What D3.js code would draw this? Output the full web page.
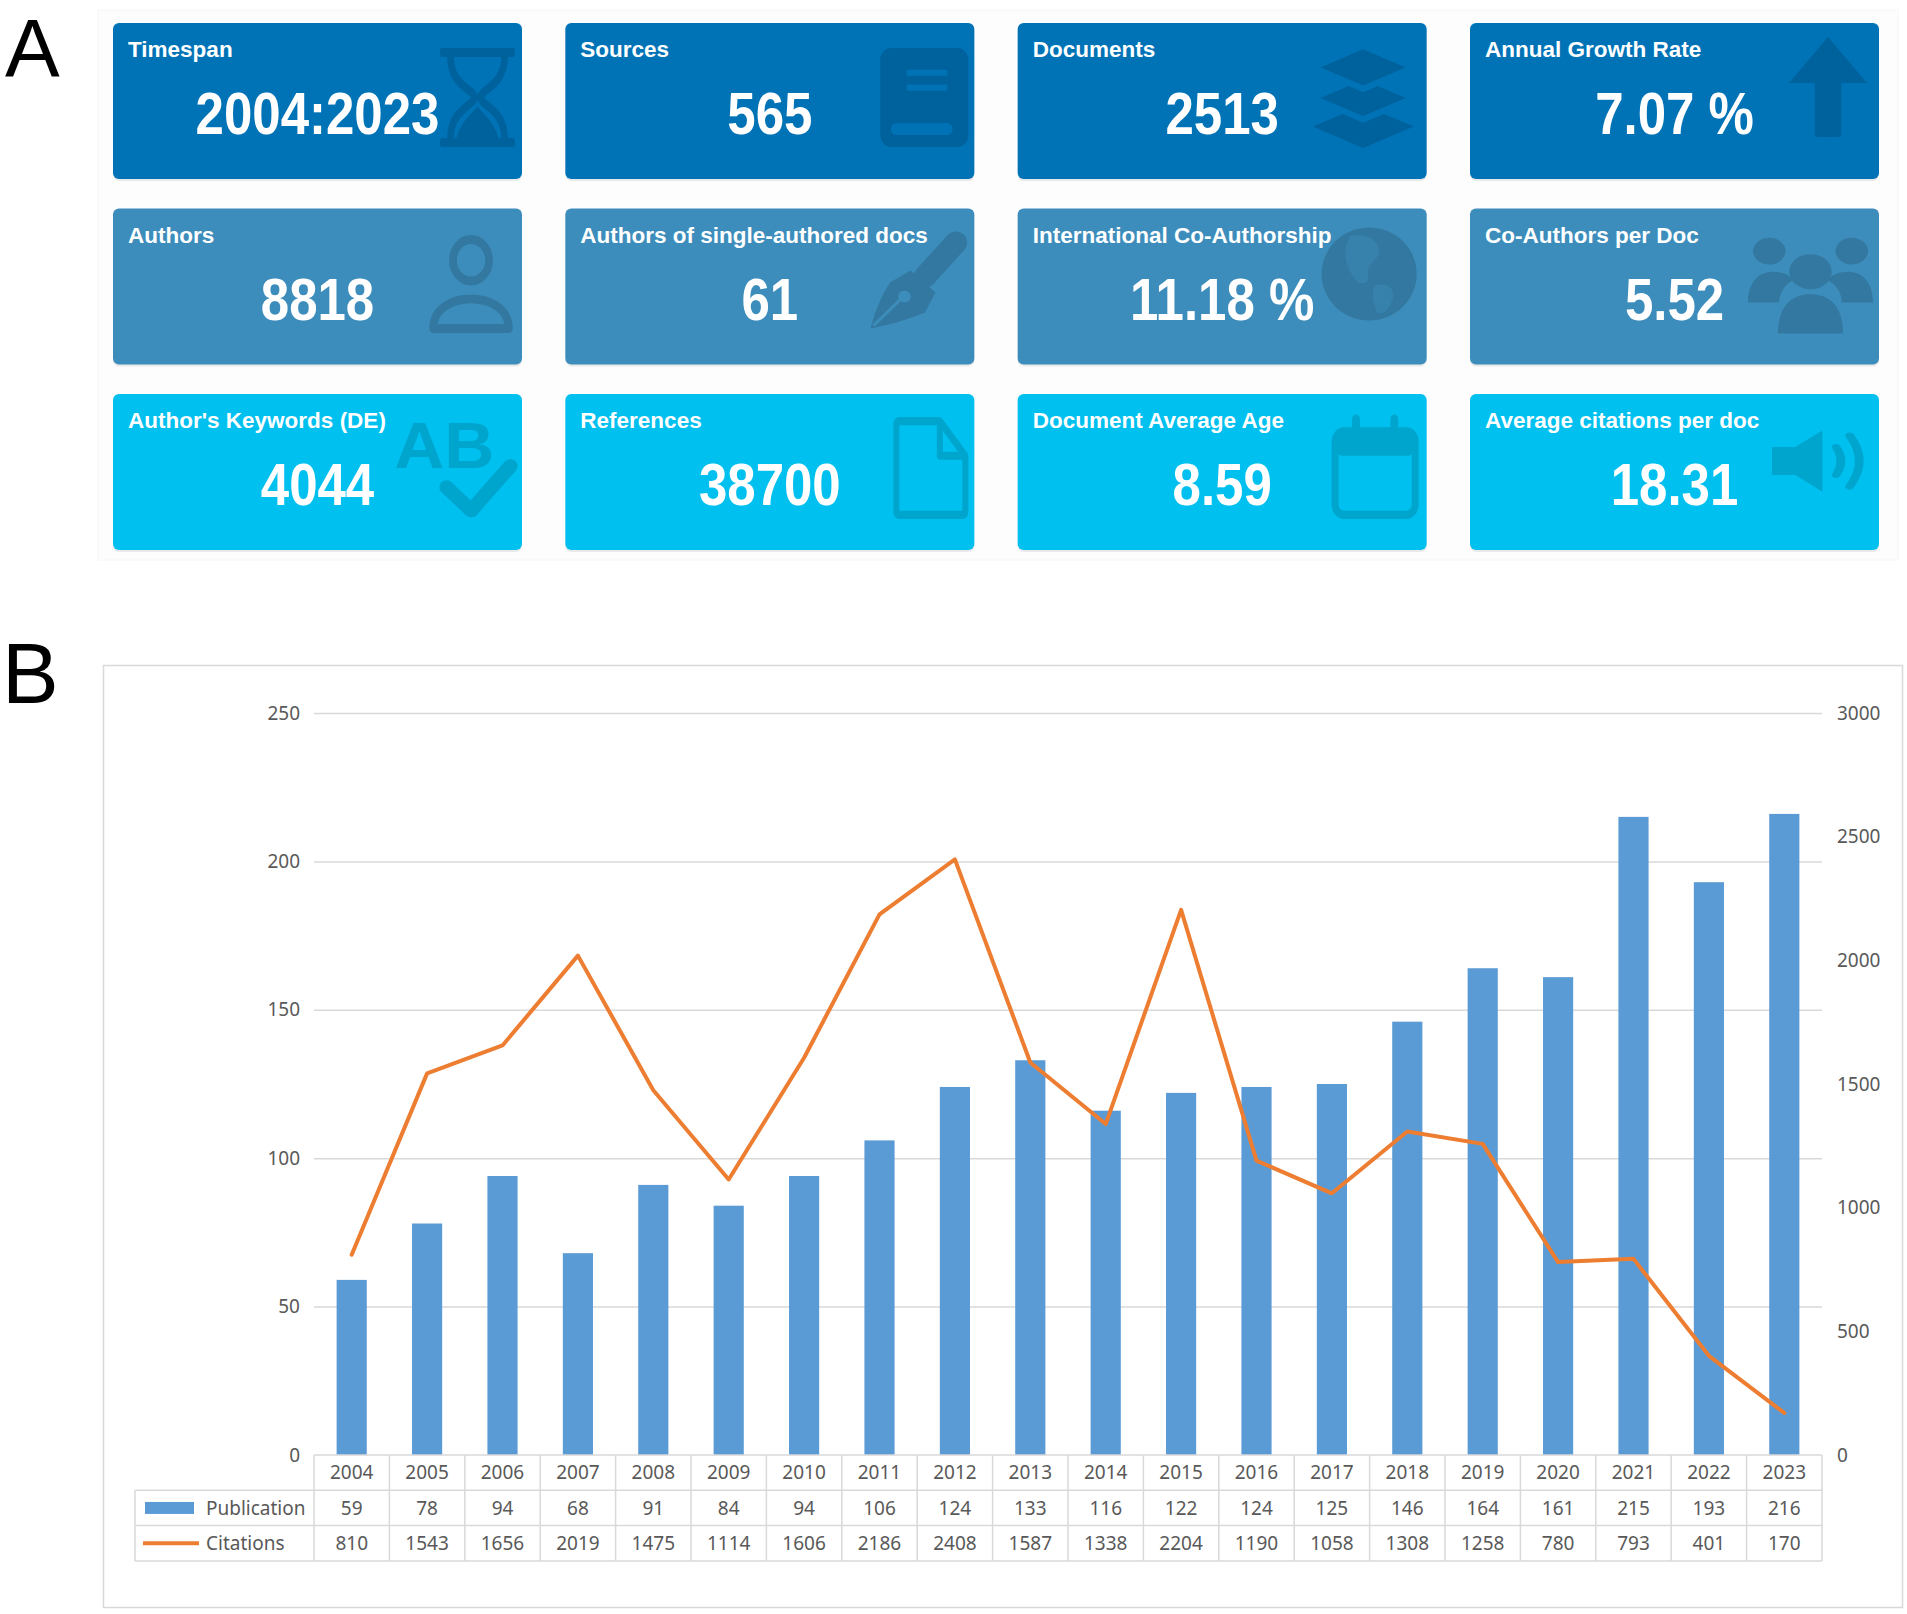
<!DOCTYPE html>
<html>
<head>
<meta charset="utf-8">
<script src="https://cdn.jsdelivr.net/npm/d3@7"></script>
<style>
  body { margin: 0; background: #fff; }
  svg { display: block; }
</style>
</head>
<body>
<div id="svg-container"></div>
<script>
// ---------------- data ----------------
const cardTitles = [
  "Timespan", "Sources", "Documents", "Annual Growth Rate",
  "Authors", "Authors of single-authored docs", "International Co-Authorship", "Co-Authors per Doc",
  "Author's Keywords (DE)", "References", "Document Average Age", "Average citations per doc"
];
const cardValues = [
  "2004:2023", "565", "2513", "7.07 %",
  "8818", "61", "11.18 %", "5.52",
  "4044", "38700", "8.59", "18.31"
];
const cardIcons = [
  "hourglass", "book", "layers", "arrow",
  "user", "pen", "globe", "users",
  "spell", "file", "calendar", "volume"
];

const years = ["2004", "2005", "2006", "2007", "2008", "2009", "2010", "2011", "2012", "2013",
  "2014", "2015", "2016", "2017", "2018", "2019", "2020", "2021", "2022", "2023"];
const publications = [59, 78, 94, 68, 91, 84, 94, 106, 124, 133, 116, 122, 124, 125, 146, 164, 161, 215, 193, 216];
const citations = [810, 1543, 1656, 2019, 1475, 1114, 1606, 2186, 2408, 1587, 1338, 2204, 1190, 1058, 1308, 1258, 780, 793, 401, 170];

const leftTicks = [0, 50, 100, 150, 200, 250];
const rightTicks = [0, 500, 1000, 1500, 2000, 2500, 3000];
const seriesNames = ["Publication", "Citations"];

// ---------------- init ----------------
const width = 1907, height = 1614;
const svg = d3.select("#svg-container").append("svg")
  .attr("width", width).attr("height", height);

// row colours (AdminLTE value boxes) and darker icon tones
const rowFill = ["#0073b7", "#3c8dbc", "#00c0ef"];
const rowIcon = ["#00629c", "#3378a0", "#00a5ce"];

// panel labels
svg.append("text").attr("x", 5).attr("y", 76)
  .attr("font-family", "Liberation Sans, Arial, sans-serif").attr("font-size", 82)
  .text("A");
svg.append("text").attr("x", 2).attr("y", 703)
  .attr("font-family", "Liberation Sans, Arial, sans-serif").attr("font-size", 85)
  .text("B");

// faint panel A background
svg.append("rect").attr("x", 98).attr("y", 10).attr("width", 1800).attr("height", 550)
  .attr("fill", "#fdfdfd").attr("stroke", "#f6f6f6");

////////////////////////////// cards //////////////////////////////
const cardW = 409, cardH = 156;
const colX = d3.scaleLinear().domain([0, 3]).range([113, 1470]);
const rowY = d3.scaleLinear().domain([0, 2]).range([23, 394]);

// icon box inside each card: [x, y, w, h] relative to the card
const iconBox = {
  hourglass: [327, 25, 75, 99], book: [315, 25, 88, 99], layers: [295, 23, 101, 102], arrow: [319, 14, 78, 100],
  user: [315, 26, 86, 99], pen: [300, 22, 103, 100], globe: [303, 18, 97, 95], users: [278, 22, 125, 103],
  spell: [291, 19, 112, 106], file: [328, 23, 75, 102], calendar: [314, 23, 87, 102], volume: [302, 35, 97, 64]
};

// icons drawn in a 100 x 100 box
function drawIcon(g, name, ic, bg) {
  if (name === "hourglass") {
    g.append("rect").attr("x", 0).attr("y", 0).attr("width", 100).attr("height", 9).attr("rx", 3).attr("fill", ic);
    g.append("rect").attr("x", 0).attr("y", 91).attr("width", 100).attr("height", 9).attr("rx", 3).attr("fill", ic);
    g.append("path").attr("d", "M14,9 C14,38 46,42 46,50 C46,58 14,62 14,91 M86,9 C86,38 54,42 54,50 C54,58 86,62 86,91")
      .attr("fill", "none").attr("stroke", ic).attr("stroke-width", 9);
    g.append("path").attr("d", "M22,91 C28,72 50,62 50,58 C50,62 72,72 78,91 Z").attr("fill", ic);
  } else if (name === "book") {
    g.append("rect").attr("width", 100).attr("height", 100).attr("rx", 12).attr("fill", ic);
    g.append("rect").attr("x", 30).attr("y", 22).attr("width", 46).attr("height", 6).attr("fill", bg);
    g.append("rect").attr("x", 30).attr("y", 37).attr("width", 46).attr("height", 6).attr("fill", bg);
    g.append("rect").attr("x", 12).attr("y", 76).attr("width", 70).attr("height", 12).attr("rx", 6).attr("fill", bg);
  } else if (name === "layers") {
    [58, 30, 0].forEach((o, i) => {
      g.append("path")
        .attr("d", `M50,${o} L100,${o + 21} L50,${o + 42} L0,${o + 21} Z`)
        .attr("fill", ic).attr("stroke", i === 0 ? "none" : bg).attr("stroke-width", 6)
        .attr("stroke-linejoin", "round");
    });
  } else if (name === "arrow") {
    g.append("path").attr("d", "M50,0 L100,46 L67,46 L67,97 Q67,100 63,100 L37,100 Q33,100 33,97 L33,46 L0,46 Z").attr("fill", ic);
  } else if (name === "user") {
    g.append("circle").attr("cx", 50).attr("cy", 26).attr("r", 21).attr("fill", "none").attr("stroke", ic).attr("stroke-width", 9);
    g.append("path").attr("d", "M6,95 C6,55 94,55 94,95 Z").attr("fill", "none").attr("stroke", ic)
      .attr("stroke-width", 9).attr("stroke-linejoin", "round");
  } else if (name === "pen") {
    g.append("line").attr("x1", 88).attr("y1", 12).attr("x2", 58).attr("y2", 46)
      .attr("stroke", ic).attr("stroke-width", 22).attr("stroke-linecap", "round");
    g.append("path").attr("d", "M44,40 L68,62 L58,82 Q35,92 5,98 Q12,70 24,52 Z").attr("fill", ic);
    g.append("line").attr("x1", 8).attr("y1", 95).attr("x2", 34).attr("y2", 69).attr("stroke", bg).attr("stroke-width", 3);
    g.append("circle").attr("cx", 38).attr("cy", 66).attr("r", 6).attr("fill", bg);
  } else if (name === "globe") {
    g.append("circle").attr("cx", 50).attr("cy", 50).attr("r", 49).attr("fill", ic);
    g.append("path").attr("d", "M30,10 C45,6 62,14 60,28 C57,38 46,40 49,52 C51,60 41,63 36,56 C28,45 20,32 30,10 Z")
      .attr("fill", bg).attr("opacity", 0.45);
    g.append("path").attr("d", "M56,62 C69,58 79,66 73,80 C69,90 61,95 57,88 C55,80 51,70 56,62 Z")
      .attr("fill", bg).attr("opacity", 0.45);
  } else if (name === "users") {
    g.append("circle").attr("cx", 17).attr("cy", 20).attr("r", 13).attr("fill", ic);
    g.append("circle").attr("cx", 83).attr("cy", 20).attr("r", 13).attr("fill", ic);
    g.append("path").attr("d", "M0,70 C0,48 10,40 20,40 C28,40 34,44 36,48 C28,54 25,62 25,70 Z").attr("fill", ic);
    g.append("path").attr("d", "M100,70 C100,48 90,40 80,40 C72,40 66,44 64,48 C72,54 75,62 75,70 Z").attr("fill", ic);
    g.append("circle").attr("cx", 50).attr("cy", 40).attr("r", 17).attr("fill", ic);
    g.append("path").attr("d", "M24,100 C24,72 36,62 50,62 C64,62 76,72 76,100 Z").attr("fill", ic);
  } else if (name === "spell") {
    g.append("text").attr("x", 36).attr("y", 52).attr("text-anchor", "middle")
      .attr("font-family", "Liberation Sans, Arial, sans-serif").attr("font-weight", "bold")
      .attr("font-size", 62).attr("fill", ic).text("AB");
    g.append("path").attr("d", "M38,70 L60,92 L95,50").attr("fill", "none").attr("stroke", ic)
      .attr("stroke-width", 13).attr("stroke-linecap", "round").attr("stroke-linejoin", "round");
  } else if (name === "file") {
    g.append("path").attr("d", "M8,4 H62 L96,38 V92 Q96,96 92,96 H8 Q4,96 4,92 V8 Q4,4 8,4 Z")
      .attr("fill", "none").attr("stroke", ic).attr("stroke-width", 8).attr("stroke-linejoin", "round");
    g.append("path").attr("d", "M62,4 V38 H96").attr("fill", "none").attr("stroke", ic).attr("stroke-width", 8)
      .attr("stroke-linejoin", "round");
  } else if (name === "calendar") {
    g.append("rect").attr("x", 4).attr("y", 14).attr("width", 92).attr("height", 82).attr("rx", 10)
      .attr("fill", "none").attr("stroke", ic).attr("stroke-width", 8);
    g.append("rect").attr("x", 4).attr("y", 14).attr("width", 92).attr("height", 24).attr("rx", 8).attr("fill", ic);
    g.append("line").attr("x1", 28).attr("y1", 2).attr("x2", 28).attr("y2", 18).attr("stroke", ic)
      .attr("stroke-width", 9).attr("stroke-linecap", "round");
    g.append("line").attr("x1", 72).attr("y1", 2).attr("x2", 72).attr("y2", 18).attr("stroke", ic)
      .attr("stroke-width", 9).attr("stroke-linecap", "round");
  } else if (name === "volume") {
    g.append("path").attr("d", "M0,28 H24 L52,2 V98 L24,72 H0 Z").attr("fill", ic);
    g.append("path").attr("d", "M66,28 Q76,50 66,72").attr("fill", "none").attr("stroke", ic).attr("stroke-width", 9)
      .attr("stroke-linecap", "round");
    g.append("path").attr("d", "M80,10 Q100,50 80,90").attr("fill", "none").attr("stroke", ic).attr("stroke-width", 9)
      .attr("stroke-linecap", "round");
  }
}

const cards = svg.append("g").attr("class", "cards")
  .selectAll("g")
  .data(cardTitles.map((t, i) => ({ title: t, value: cardValues[i], icon: cardIcons[i], row: Math.floor(i / 4), col: i % 4 })))
  .join("g")
  .attr("transform", (d) => `translate(${colX(d.col)},${rowY(d.row)})`);

// shadow + box
cards.append("rect").attr("x", 0).attr("y", 2).attr("width", cardW).attr("height", cardH).attr("rx", 6)
  .attr("fill", "rgba(0,0,0,0.08)");
cards.append("rect").attr("width", cardW).attr("height", cardH).attr("rx", 6)
  .attr("fill", (d) => rowFill[d.row]);

cards.each(function (d) {
  const b = iconBox[d.icon];
  const g = d3.select(this).append("g")
    .attr("transform", `translate(${b[0]},${b[1]}) scale(${b[2] / 100},${b[3] / 100})`);
  drawIcon(g, d.icon, rowIcon[d.row], rowFill[d.row]);
});

cards.append("text")
  .attr("x", 15).attr("y", 34)
  .attr("font-family", "Liberation Sans, Arial, sans-serif")
  .attr("font-weight", "bold").attr("font-size", 22.5)
  .attr("fill", "#ffffff")
  .text((d) => d.title);

cards.append("text")
  .attr("transform", `translate(${cardW / 2},111) scale(0.85,1)`)
  .attr("text-anchor", "middle")
  .attr("font-family", "Liberation Sans, Arial, sans-serif")
  .attr("font-weight", "bold").attr("font-size", 60)
  .attr("fill", "#ffffff")
  .text((d) => d.value);

////////////////////////////// chart B //////////////////////////////
svg.append("rect").attr("x", 103.5).attr("y", 665.5).attr("width", 1799).attr("height", 942)
  .attr("fill", "#fff").attr("stroke", "#d9d9d9").attr("stroke-width", 1.5);

const plotL = 314, plotR = 1822, plotT = 713, plotB = 1455;
const chartFont = "Noto Sans, Open Sans, sans-serif";
const textGrey = "#595959";
const gridGrey = "#d9d9d9";

const xScale = d3.scaleBand().domain(years).range([plotL, plotR]).padding(0);
const yLeft = d3.scaleLinear().domain([0, 250]).range([plotB, plotT]);
const yRight = d3.scaleLinear().domain([0, 3000]).range([plotB, plotT]);

// gridlines
svg.append("g")
  .attr("transform", `translate(${plotL},0)`)
  .call(d3.axisLeft(yLeft).tickValues(leftTicks.filter((d) => d > 0)).tickSize(-(plotR - plotL)).tickFormat(""))
  .call((g) => g.select(".domain").remove())
  .call((g) => g.selectAll("line").attr("stroke", gridGrey).attr("stroke-width", 1.5));

// left axis labels
svg.append("g")
  .attr("transform", `translate(${plotL},0)`)
  .call(d3.axisLeft(yLeft).tickValues(leftTicks).tickSize(0).tickPadding(14).tickFormat(d3.format("d")))
  .call((g) => g.select(".domain").remove())
  .call((g) => g.selectAll("text").attr("font-family", chartFont).attr("font-size", 19).attr("fill", textGrey));

// right axis labels
svg.append("g")
  .attr("transform", `translate(${plotR},0)`)
  .call(d3.axisRight(yRight).tickValues(rightTicks).tickSize(0).tickPadding(15).tickFormat(d3.format("d")))
  .call((g) => g.select(".domain").remove())
  .call((g) => g.selectAll("text").attr("font-family", chartFont).attr("font-size", 19).attr("fill", textGrey));

// bars
const barW = xScale.bandwidth() * 0.4;
svg.append("g")
  .selectAll("rect")
  .data(years)
  .join("rect")
  .attr("x", (d) => xScale(d) + (xScale.bandwidth() - barW) / 2)
  .attr("y", (d, i) => yLeft(publications[i]))
  .attr("width", barW)
  .attr("height", (d, i) => yLeft(0) - yLeft(publications[i]))
  .attr("fill", "#5b9bd5");

// citations line
const line = d3.line()
  .x((d, i) => xScale(years[i]) + xScale.bandwidth() / 2)
  .y((d) => yRight(d));

svg.append("path")
  .datum(citations)
  .attr("fill", "none")
  .attr("stroke", "#ed7d31")
  .attr("stroke-width", 4)
  .attr("stroke-linejoin", "round")
  .attr("stroke-linecap", "round")
  .attr("d", line);

// data table
const rowH = 35.3;
const tableLeft = 135;
const tRow = d3.scaleLinear().domain([0, 3]).range([plotB, plotB + 3 * rowH]);
const table = svg.append("g").attr("class", "table");

// horizontal rules
table.append("line").attr("x1", plotL).attr("x2", plotR).attr("y1", tRow(0)).attr("y2", tRow(0));
[1, 2, 3].forEach((r) => {
  table.append("line").attr("x1", tableLeft).attr("x2", plotR).attr("y1", tRow(r)).attr("y2", tRow(r));
});
// vertical rules
table.append("line").attr("x1", tableLeft).attr("x2", tableLeft).attr("y1", tRow(1)).attr("y2", tRow(3));
years.forEach((y) => {
  table.append("line").attr("x1", xScale(y)).attr("x2", xScale(y)).attr("y1", tRow(0)).attr("y2", tRow(3));
});
table.append("line").attr("x1", plotR).attr("x2", plotR).attr("y1", tRow(0)).attr("y2", tRow(3));
table.selectAll("line").attr("stroke", gridGrey).attr("stroke-width", 1.5);

const rowsData = [years, publications, citations];
rowsData.forEach((arr, r) => {
  table.append("g")
    .selectAll("text")
    .data(arr)
    .join("text")
    .attr("x", (d, i) => xScale(years[i]) + xScale.bandwidth() / 2)
    .attr("y", (tRow(r) + tRow(r + 1)) / 2)
    .attr("dy", "0.35em")
    .attr("text-anchor", "middle")
    .attr("font-family", chartFont)
    .attr("font-size", 19)
    .attr("fill", textGrey)
    .text((d) => d);
});

// legend keys in the table
table.append("rect").attr("x", 145).attr("y", (tRow(1) + tRow(2)) / 2 - 6).attr("width", 49).attr("height", 12)
  .attr("fill", "#5b9bd5");
table.append("line").attr("x1", 143).attr("x2", 199)
  .attr("y1", (tRow(2) + tRow(3)) / 2).attr("y2", (tRow(2) + tRow(3)) / 2)
  .attr("stroke", "#ed7d31").attr("stroke-width", 4);

table.selectAll(".legend-label")
  .data(seriesNames)
  .join("text")
  .attr("class", "legend-label")
  .attr("x", 206)
  .attr("y", (d, i) => (tRow(i + 1) + tRow(i + 2)) / 2)
  .attr("dy", "0.35em")
  .attr("font-family", chartFont)
  .attr("font-size", 19)
  .attr("fill", textGrey)
  .text((d) => d);
</script>
</body>
</html>
